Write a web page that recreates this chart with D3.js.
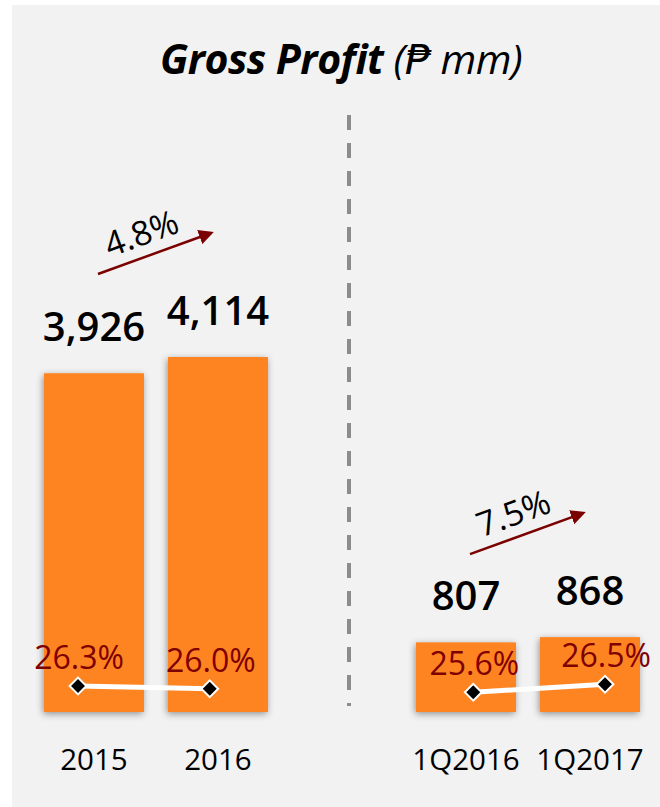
<!DOCTYPE html>
<html><head><meta charset="utf-8">
<script src="https://cdn.jsdelivr.net/npm/d3@7"></script>
<style>html,body{margin:0;padding:0;background:#fff;}svg{display:block;}</style>
</head><body>
<script>
const categories = ["2015", "2016", "", "1Q2016", "1Q2017"];
const grossProfit = [3926, 4114, null, 807, 868];
const valueLabels = ["3,926", "4,114", "", "807", "868"];
const grossMargin = [26.3, 26.0, null, 25.6, 26.5];
const marginLabels = ["26.3%", "26.0%", "", "25.6%", "26.5%"];
const growth = [{from: 0, to: 1, label: "4.8%"}, {from: 3, to: 4, label: "7.5%"}];
const titleBold = "Gross Profit";
const titleRest = " (\u20B1 mm)";

const W = 660, H = 807;
const font = "'Open Sans', 'Segoe UI', 'DejaVu Sans', sans-serif";
const svg = d3.select("body").append("svg").attr("width", W).attr("height", H);

const defs = svg.append("defs");
const f = defs.append("filter").attr("id", "shadow").attr("x", "-30%").attr("y", "-30%").attr("width", "160%").attr("height", "160%");
f.append("feDropShadow").attr("dx", -1).attr("dy", 2).attr("stdDeviation", 3.5)
  .attr("flood-color", "#000").attr("flood-opacity", 0.4);

svg.append("rect").attr("x", 12).attr("y", 5).attr("width", W - 12).attr("height", H - 5).attr("fill", "#f2f2f2");

// scales
const xBar = d3.scalePoint().domain(categories).range([94, 590]);
const xLine = d3.scalePoint().domain(categories).range([78, 605]);
const bottom = 712;
const y = d3.scaleLinear().domain([0, 4114]).range([bottom, 357]);
const yM = d3.scaleLinear().domain([25, 27]).range([697.7, 679.7]);
const barW = 100;

// title
const title = svg.append("text").attr("x", 341).attr("y", 74).attr("text-anchor", "middle")
  .attr("font-family", font).attr("font-size", 41).attr("font-style", "italic").attr("fill", "#000")
  .attr("letter-spacing", -0.5);
title.append("tspan").attr("font-weight", 700).text(titleBold);
title.append("tspan").attr("font-weight", 400).text(titleRest);

// divider
svg.append("line").attr("x1", 349).attr("x2", 349).attr("y1", 115).attr("y2", 706)
  .attr("stroke", "#8c8c8c").attr("stroke-width", 4).attr("stroke-dasharray", "15,13");

const data = categories.map((c, i) => ({c, v: grossProfit[i], vl: valueLabels[i], m: grossMargin[i], ml: marginLabels[i]}))
  .filter(d => d.v != null);

// bars
svg.append("g").selectAll("rect").data(data).join("rect")
  .attr("x", d => xBar(d.c) - barW / 2).attr("width", barW)
  .attr("y", d => y(d.v)).attr("height", d => bottom - y(d.v))
  .attr("fill", "#fe8424").attr("filter", "url(#shadow)");

// value labels
svg.append("g").selectAll("text").data(data).join("text")
  .attr("x", d => xBar(d.c)).attr("y", d => y(d.v) - 32)
  .attr("text-anchor", "middle").attr("font-family", font).attr("font-size", 40).attr("font-weight", 600)
  .attr("fill", "#000").text(d => d.vl);

// category labels
svg.append("g").selectAll("text").data(data).join("text")
  .attr("x", d => xBar(d.c)).attr("y", 770)
  .attr("text-anchor", "middle").attr("font-family", font).attr("font-size", 29.5)
  .attr("fill", "#000").text(d => d.c);

// margin line(s) by group
const groups = [data.slice(0, 2), data.slice(2, 4)];
const line = d3.line().x(d => xLine(d.c)).y(d => yM(d.m));
svg.append("g").selectAll("path").data(groups).join("path")
  .attr("d", line).attr("fill", "none").attr("stroke", "#fff").attr("stroke-width", 5);

// margin labels
svg.append("g").selectAll("text").data(data).join("text")
  .attr("x", d => xLine(d.c) + 1).attr("y", d => yM(d.m) - 17)
  .attr("text-anchor", "middle").attr("font-family", font).attr("font-size", 32)
  .attr("fill", "#7f0000").text(d => d.ml);

// markers
svg.append("g").selectAll("path").data(data).join("path")
  .attr("transform", d => `translate(${xLine(d.c)},${yM(d.m)}) rotate(45)`)
  .attr("d", d3.symbol().type(d3.symbolSquare).size(140))
  .attr("fill", "#000").attr("stroke", "#fff").attr("stroke-width", 2);

// growth arrows
defs.append("marker").attr("id", "ah").attr("viewBox", "0 0 10 10").attr("refX", 8).attr("refY", 5)
  .attr("markerWidth", 6).attr("markerHeight", 6).attr("orient", "auto").attr("markerUnits", "strokeWidth")
  .append("path").attr("d", "M0,0 L10,5 L0,10 Z").attr("fill", "#7b0000");

growth.forEach(g => {
  const a = categories[g.from], b = categories[g.to];
  const top = Math.min(y(grossProfit[g.from]), y(grossProfit[g.to]));
  const x1 = xBar(a) + 4, x2 = xBar(b) - 7;
  const y1 = top - 83, y2 = y1 - 41;
  svg.append("line").attr("x1", x1).attr("y1", y1).attr("x2", x2).attr("y2", y2)
    .attr("stroke", "#7b0000").attr("stroke-width", 2.5).attr("marker-end", "url(#ah)");
  const ang = Math.atan2(y2 - y1, x2 - x1) * 180 / Math.PI;
  const mx = (x1 + x2) / 2 - 9, my = (y1 + y2) / 2 - 9;
  svg.append("text").attr("transform", `translate(${mx},${my}) rotate(${ang})`)
    .attr("text-anchor", "middle").attr("font-family", font).attr("font-size", 34)
    .attr("fill", "#000").text(g.label);
});
</script>
</body></html>
